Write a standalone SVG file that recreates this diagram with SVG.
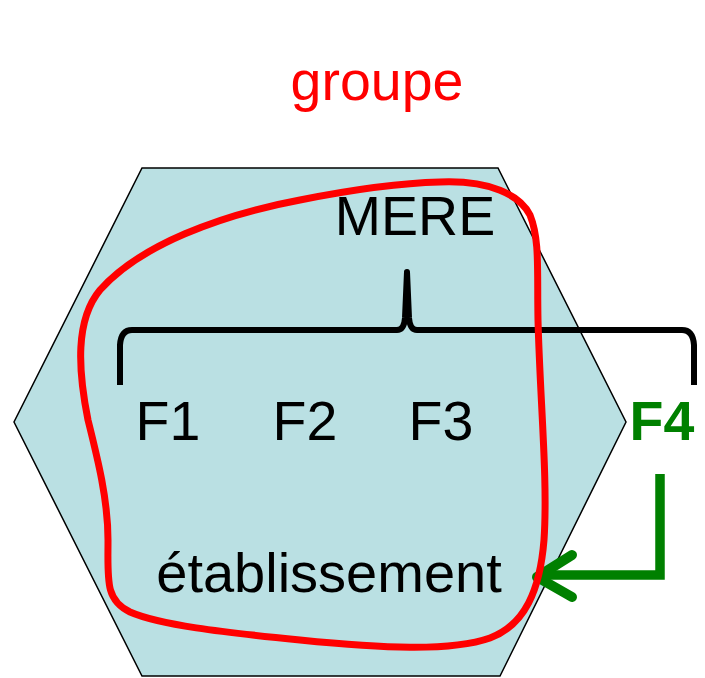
<svg xmlns="http://www.w3.org/2000/svg" width="705" height="678" viewBox="0 0 705 678">
<style>
.t{font-family:"Liberation Sans",Arial,sans-serif;font-size:55.5px;fill:#000}
</style>
<rect width="705" height="678" fill="#fff"/>
<g id="hexagon">
<polygon points="142,168 498,168 626,422 500,676 142,676 14,422" fill="#BAE0E3" stroke="#000" stroke-width="1.5"/>
</g>
<g id="labels">
<text class="t" x="377" y="100" text-anchor="middle" style="fill:#FF0000">groupe</text>
<text class="t" x="415" y="235" text-anchor="middle">MERE</text>
<text class="t" x="168" y="440" text-anchor="middle">F1</text>
<text class="t" x="305" y="440" text-anchor="middle">F2</text>
<text class="t" x="441" y="440" text-anchor="middle">F3</text>
<text class="t" x="662" y="440" text-anchor="middle" style="fill:#008000;font-weight:bold">F4</text>
<text class="t" x="329" y="592" text-anchor="middle" style="font-size:56px">établissement</text>
</g>
<g id="connectors">
<path d="M120,385 L120,345 Q121,330 132,330 L397,330 Q404,330 405,318 L407,272 L409,318 Q410,330 417,330 L682,330 Q693,330 694,345 L694,385" fill="none" stroke="#000" stroke-width="6" stroke-linecap="butt" stroke-linejoin="round"/>
<path d="M660,474 L660,575 L538,575" fill="none" stroke="#008000" stroke-width="9.5"/>
<path d="M572,555 L537,577 L572,597" fill="none" stroke="#008000" stroke-width="10" stroke-linecap="round" stroke-linejoin="round"/>
</g>
<g id="group-outline">
<path d="M440,182 C490,180 520,195 530,215 C540,240 537,270 538,320 C540,400 548,480 544,540 C540,590 525,625 490,638 C450,652 380,648 300,640 C220,632 160,625 130,612 C105,600 108,580 108,540 C108,500 98,460 88,420 C78,370 75,320 100,290 C140,245 220,215 300,200 C350,190 400,183 440,182 Z" fill="none" stroke="#FF0000" stroke-width="7"/>
</g>
</svg>
